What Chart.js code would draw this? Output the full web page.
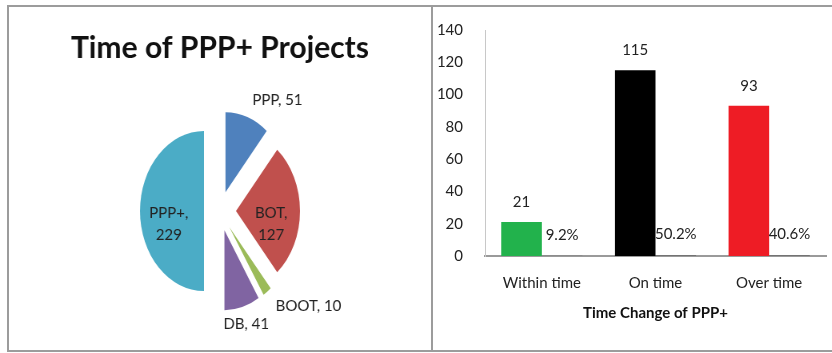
<!DOCTYPE html>
<html>
<head>
<meta charset="utf-8">
<script src="https://cdn.jsdelivr.net/npm/chart.js@4"></script>
<style>
  body { margin: 0; background: #fff; width: 832px; height: 353px; overflow: hidden; position: relative; }
  #frame { position: absolute; left: 7px; top: 5px; width: 900px; height: 343px; border: 2px solid #9c9c9c; }
  #sep { position: absolute; left: 431px; top: 5px; width: 2px; height: 347px; background: #9c9c9c; }
  #pieBox { position: absolute; left: 9px; top: 7px; width: 422px; height: 343px; transform: scaleX(0.8); transform-origin: 211px 50%; }
  #barBox { position: absolute; left: 433px; top: 7px; width: 399px; height: 343px; }
</style>
</head>
<body>
<div id="frame"></div>
<div id="sep"></div>
<div id="pieBox"><canvas id="pie"></canvas></div>
<div id="barBox"><canvas id="bar"></canvas></div>
<script>
  // pie data
  const pieTitle = 'Time of PPP+ Projects';
  const pieLabels = ['PPP', 'BOT', 'BOOT', 'DB', 'PPP+'];
  const pieValues = [51, 127, 10, 41, 229];
  const pieColors = ['#4f81bd', '#c0504d', '#9bbb59', '#8064a2', '#4bacc6'];

  // bar data
  const barCategories = ['Within time', 'On time', 'Over time'];
  const barCounts = [21, 115, 93];
  const barShares = [0.092, 0.502, 0.406];
  const barColors = ['#22b24c', '#000000', '#ee1c25'];
  const axisTitle = 'Time Change of PPP+';
  const yMax = 140, yStep = 20;

  const squeeze = 0.8; // the pie is drawn taller than wide
  const gap = 20;      // how far each slice is pulled out
  Chart.defaults.font.family = 'Lato, "Liberation Sans", sans-serif';

  function sqText(ctx, text, x, y, align) {
    ctx.save();
    ctx.translate(x, y);
    ctx.scale(1 / squeeze, 1);
    ctx.textAlign = align;
    ctx.fillText(text, 0, 0);
    ctx.restore();
  }

  // pull every slice out by the same distance, radius stays the same
  const explode = {
    id: 'explode',
    afterDatasetUpdate(chart, args) {
      args.meta.data.forEach(arc => {
        const mid = (arc.startAngle + arc.endAngle) / 2;
        arc.x += Math.cos(mid) * gap;
        arc.y += Math.sin(mid) * gap;
      });
    }
  };

  const pieText = {
    id: 'pieText',
    afterDraw(chart) {
      const ctx = chart.ctx;
      ctx.save();
      ctx.fillStyle = '#111';
      ctx.textBaseline = 'middle';
      ctx.font = 'bold 30px Lato';
      sqText(ctx, pieTitle, chart.width / 2, 41, 'center');

      ctx.font = '15px Lato';
      ctx.fillStyle = '#222';
      const total = pieValues.reduce((a, b) => a + b, 0);
      chart.getDatasetMeta(0).data.forEach((arc, i) => {
        const mid = (arc.startAngle + arc.endAngle) / 2;
        const inside = pieValues[i] / total > 0.2;
        if (inside) {
          const r = arc.outerRadius * 0.55;
          const x = arc.x + Math.cos(mid) * r;
          const y = arc.y + Math.sin(mid) * r + 13;
          sqText(ctx, pieLabels[i] + ',', x, y - 11, 'center');
          sqText(ctx, String(pieValues[i]), x, y + 11, 'center');
        } else {
          const r = arc.outerRadius + 18;
          const c = Math.cos(mid);
          const x = arc.x + c * r;
          const y = arc.y + Math.sin(mid) * r;
          const align = c > 0.3 ? 'left' : (c < -0.3 ? 'right' : 'center');
          sqText(ctx, pieLabels[i] + ', ' + pieValues[i], x, y, align);
        }
      });
      ctx.restore();
    }
  };

  new Chart(document.getElementById('pie'), {
    type: 'pie',
    data: {
      labels: pieLabels,
      datasets: [{
        data: pieValues,
        backgroundColor: pieColors,
        borderWidth: 0,
        hoverOffset: 0
      }]
    },
    options: {
      responsive: true,
      maintainAspectRatio: false,
      animation: false,
      radius: 80,
      layout: { padding: { top: 65, bottom: 0, left: 0, right: 0 } },
      plugins: { legend: { display: false }, tooltip: { enabled: false } }
    },
    plugins: [explode, pieText]
  });

  const barText = {
    id: 'barText',
    afterDatasetsDraw(chart) {
      const ctx = chart.ctx;
      ctx.save();
      ctx.font = '15px Lato';
      ctx.fillStyle = '#222';
      ctx.textAlign = 'center';
      ctx.textBaseline = 'middle';
      chart.getDatasetMeta(0).data.forEach((b, i) => {
        ctx.fillText(String(barCounts[i]), b.x, b.y - 20);
      });
      chart.getDatasetMeta(1).data.forEach((b, i) => {
        ctx.fillText((barShares[i] * 100).toFixed(1) + '%', b.x, b.y - 21);
      });
      ctx.restore();
    }
  };

  new Chart(document.getElementById('bar'), {
    type: 'bar',
    data: {
      labels: barCategories,
      datasets: [
        { data: barCounts, backgroundColor: barColors, categoryPercentage: 0.714, barPercentage: 1 },
        { data: barShares, backgroundColor: '#666', categoryPercentage: 0.714, barPercentage: 1 }
      ]
    },
    options: {
      responsive: true,
      maintainAspectRatio: false,
      animation: false,
      layout: { padding: { top: 22, right: 6, bottom: 20, left: 0 } },
      plugins: { legend: { display: false }, tooltip: { enabled: false } },
      scales: {
        x: {
          grid: { display: false },
          border: { color: '#9a9a9a', width: 2 },
          ticks: { font: { size: 15 }, color: '#222', padding: 10 },
          title: {
            display: true, text: axisTitle, color: '#111',
            font: { size: 15, weight: 'bold' }, padding: { top: 4, bottom: 8 }
          },
          afterFit(s) { s.height = 74; }
        },
        y: {
          min: 0, max: yMax,
          grid: { display: false },
          border: { color: '#c8c8c8' },
          ticks: { stepSize: yStep, font: { size: 15 }, color: '#222', padding: 14 },
          afterFit(s) { s.width = 52; }
        }
      }
    },
    plugins: [barText]
  });
</script>
</body>
</html>
